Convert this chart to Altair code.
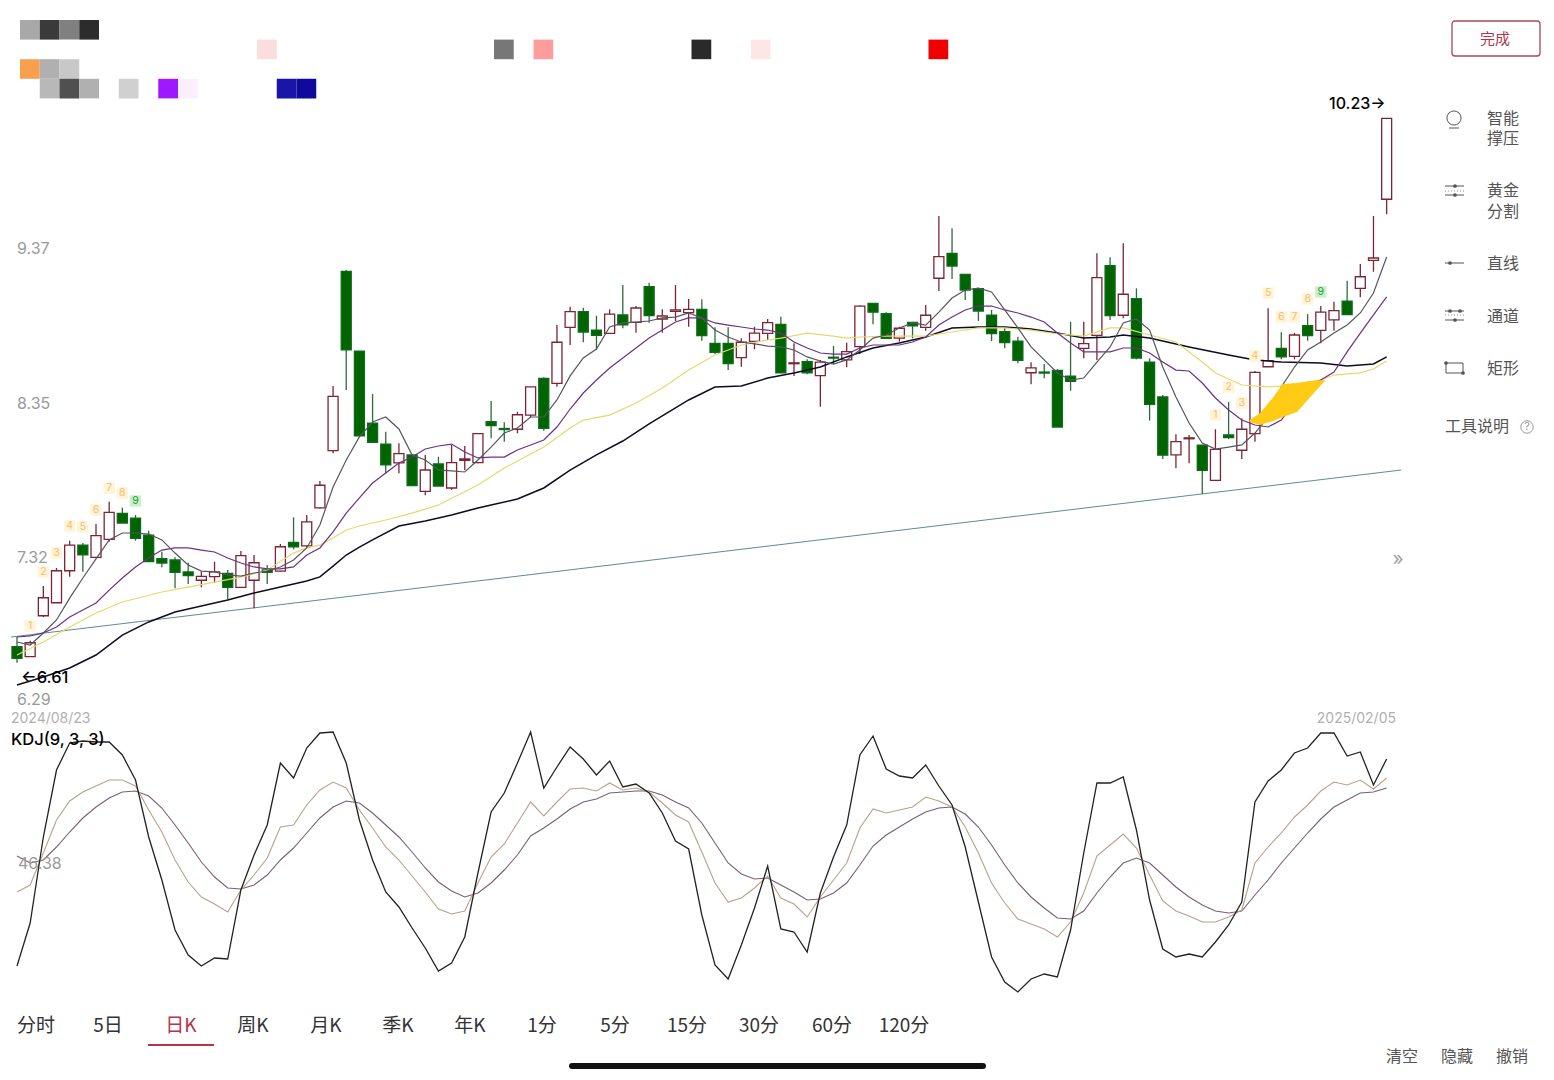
import altair as alt
import pandas as pd

FONT = "Noto Sans CJK SC"
LATIN = "Inter"
W, H = 1538, 1064

# ---------- candles (105 sessions) ----------
body_top = [6.726,6.752,7.050,7.229,7.399,7.399,7.461,7.616,7.609,7.578,7.464,7.309,7.300,7.221,7.192,7.221,7.212,7.329,7.282,7.234,7.388,7.417,7.552,7.795,8.384,9.212,8.684,8.207,8.068,8.004,7.996,7.896,7.936,7.945,7.969,8.137,8.216,8.171,8.262,8.446,8.503,8.742,8.945,8.945,8.823,8.929,8.923,8.969,9.110,8.916,8.956,8.960,8.960,8.735,8.735,8.742,8.803,8.872,8.861,8.606,8.613,8.611,8.643,8.680,8.982,9.000,8.931,8.835,8.874,8.921,9.309,9.331,9.192,9.097,8.921,8.812,8.750,8.572,8.545,8.556,8.517,8.733,9.170,9.249,9.060,9.031,8.611,8.380,8.084,8.109,8.060,8.033,8.128,8.166,8.543,8.620,8.702,8.790,8.852,8.941,8.951,9.015,9.176,9.300,10.225]
body_bot = [6.649,6.660,6.931,7.017,7.229,7.335,7.318,7.437,7.545,7.444,7.289,7.280,7.219,7.196,7.166,7.190,7.119,7.119,7.166,7.219,7.227,7.388,7.393,7.645,8.024,8.691,8.123,8.080,7.931,7.943,7.792,7.755,7.790,7.777,7.960,7.945,8.190,8.164,8.166,8.260,8.172,8.470,8.841,8.810,8.788,8.801,8.858,8.874,8.918,8.896,8.947,8.938,8.786,8.676,8.600,8.640,8.748,8.801,8.540,8.600,8.540,8.521,8.637,8.625,8.713,8.941,8.768,8.770,8.850,8.841,9.166,9.247,9.088,8.949,8.799,8.739,8.623,8.540,8.538,8.181,8.484,8.702,8.788,8.918,8.921,8.638,8.331,7.994,7.996,8.103,7.894,7.828,8.110,8.027,8.137,8.580,8.646,8.649,8.786,8.821,8.890,8.925,9.099,9.285,9.689]
high = [6.792,6.766,7.128,7.247,7.428,7.413,7.539,7.686,7.647,7.598,7.494,7.355,7.318,7.282,7.223,7.289,7.234,7.360,7.333,7.267,7.406,7.583,7.598,7.823,8.452,9.221,8.684,8.399,8.150,8.073,7.996,7.996,7.984,8.062,8.055,8.139,8.353,8.212,8.282,8.446,8.510,8.856,8.978,8.971,8.918,8.960,9.121,8.982,9.137,8.960,9.121,9.029,9.027,8.841,8.841,8.768,8.845,8.896,8.911,8.735,8.629,8.625,8.717,8.739,8.987,9.000,8.941,8.845,8.878,8.989,9.578,9.497,9.192,9.103,8.956,8.845,8.779,8.609,8.598,8.563,8.878,8.878,9.331,9.305,9.397,9.099,8.636,8.393,8.133,8.128,8.064,8.166,8.348,8.238,8.552,8.967,8.808,8.805,8.929,8.982,9.011,9.150,9.260,9.578,10.225]
low = [6.620,6.658,6.923,7.017,7.190,7.223,7.313,7.421,7.545,7.428,7.289,7.252,7.113,7.141,7.119,7.150,7.040,7.119,6.980,7.141,7.223,7.371,7.386,7.640,8.007,8.426,8.121,8.080,7.874,7.874,7.792,7.729,7.790,7.764,7.896,7.941,8.106,8.084,8.139,8.245,8.156,8.448,8.724,8.742,8.691,8.801,8.835,8.805,8.872,8.805,8.883,8.845,8.752,8.664,8.558,8.580,8.695,8.757,8.537,8.519,8.530,8.315,8.598,8.576,8.664,8.861,8.768,8.746,8.768,8.819,9.082,9.161,9.022,8.883,8.750,8.702,8.603,8.464,8.503,8.181,8.421,8.636,8.625,8.890,8.901,8.629,8.223,7.969,7.907,7.941,7.737,7.823,8.101,7.969,8.084,8.580,8.629,8.629,8.752,8.735,8.819,8.925,9.040,9.209,9.590]
is_up = [0,1,1,1,1,0,1,1,0,0,0,0,0,0,1,1,0,1,1,0,1,0,1,1,1,0,0,0,0,1,0,1,0,1,1,1,0,0,1,1,0,1,1,0,0,1,0,1,0,1,1,1,0,0,0,1,1,1,0,1,0,1,0,1,1,0,0,1,0,1,1,0,0,0,0,0,0,1,0,0,0,1,1,0,1,0,0,0,1,1,0,1,0,1,1,1,0,1,0,1,1,0,1,1,1]

# ---------- moving averages ----------
ma5 = [6.757,6.737,6.817,6.903,7.048,7.181,7.307,7.433,7.479,7.479,7.472,7.433,7.346,7.267,7.227,7.221,7.201,7.194,7.214,7.227,7.254,7.300,7.380,7.532,7.784,7.962,8.115,8.214,8.247,8.168,7.996,7.962,7.896,7.890,7.883,7.962,8.048,8.141,8.174,8.247,8.247,8.360,8.519,8.638,8.697,8.843,8.870,8.876,8.883,8.903,8.909,8.936,8.903,8.823,8.777,8.744,8.731,8.717,8.711,8.691,8.645,8.618,8.598,8.625,8.691,8.770,8.790,8.837,8.870,8.856,8.942,9.035,9.088,9.101,9.075,8.956,8.837,8.711,8.625,8.539,8.492,8.505,8.611,8.711,8.870,8.896,8.823,8.578,8.380,8.207,8.075,8.035,8.048,8.062,8.141,8.247,8.446,8.578,8.691,8.744,8.803,8.856,8.936,9.068,9.307]
ma10 = [6.790,6.797,6.817,6.856,6.923,6.969,7.015,7.101,7.181,7.254,7.313,7.366,7.380,7.380,7.366,7.353,7.313,7.280,7.254,7.241,7.241,7.254,7.333,7.380,7.486,7.611,7.711,7.810,7.876,7.943,7.982,8.035,8.055,8.068,8.015,7.976,7.982,7.982,8.029,8.062,8.095,8.181,8.300,8.406,8.492,8.572,8.638,8.704,8.770,8.823,8.876,8.903,8.903,8.870,8.856,8.843,8.830,8.823,8.803,8.744,8.704,8.671,8.664,8.664,8.704,8.724,8.724,8.724,8.744,8.777,8.856,8.909,8.956,8.982,8.982,8.956,8.936,8.909,8.876,8.803,8.737,8.678,8.678,8.678,8.704,8.704,8.671,8.611,8.558,8.552,8.472,8.373,8.294,8.227,8.194,8.181,8.227,8.346,8.439,8.492,8.545,8.678,8.803,8.923,9.042]
ma20_i = [0,2,4,6,8,11,13,15,17,19,21,22,23,24,25,26,28,30,32,35,37,40,42,43,45,47,49,51,53,55,57,58,60,62,63,64,66,69,71,73,75,77,79,81,83,84,86,88,90,91,93,95,96,99,100,102,103,104]
ma20 = [6.671,6.757,6.856,6.949,7.022,7.088,7.121,7.154,7.187,7.234,7.346,7.380,7.399,7.446,7.499,7.525,7.565,7.611,7.664,7.797,7.909,8.048,8.174,8.227,8.260,8.340,8.439,8.558,8.658,8.724,8.757,8.770,8.803,8.783,8.770,8.777,8.783,8.783,8.810,8.837,8.837,8.823,8.797,8.783,8.837,8.837,8.790,8.744,8.611,8.539,8.459,8.446,8.452,8.492,8.525,8.539,8.565,8.618]
ma30_i = [0,2,4,6,8,10,12,14,16,18,20,22,23,24,25,26,27,29,31,33,35,36,38,40,42,44,46,48,51,53,55,57,59,61,63,65,67,69,71,73,75,77,79,81,83,84,86,89,92,94,96,99,101,103,104]
ma30 = [6.472,6.525,6.585,6.671,6.803,6.890,6.956,6.995,7.035,7.082,7.121,7.161,7.188,7.260,7.333,7.386,7.433,7.525,7.558,7.598,7.645,7.664,7.704,7.777,7.896,7.996,8.088,8.201,8.360,8.446,8.452,8.505,8.539,8.578,8.645,8.704,8.737,8.777,8.837,8.843,8.843,8.830,8.803,8.770,8.777,8.790,8.770,8.711,8.658,8.625,8.611,8.605,8.585,8.598,8.645]

trend_i = [-0.45, 105.1]
trend_p = [6.790, 7.896]

# hand-drawn highlighter stroke
mark_i = [93.6,94.4,95.4,96.1,97.2,98.2,99.3]
mark_top = [8.227,8.274,8.380,8.466,8.472,8.486,8.492]
mark_bot = [8.214,8.194,8.221,8.247,8.280,8.380,8.486]

# nine-turn counters
td_i = [1,2,3,4,5,6,7,8,9,91,92,93,94,95,96,97,98,99]
td_n = [1,2,3,4,5,6,7,8,9,1,2,3,4,5,6,7,8,9]
td_p = [6.863,7.221,7.346,7.525,7.519,7.631,7.777,7.744,7.691,8.260,8.446,8.340,8.651,9.068,8.909,8.909,9.029,9.075]

# ---------- KDJ ----------
kdj_j = [-5.1,16.4,59.4,92.9,106.4,107.4,106.9,106.9,100.4,87.9,59.4,37.9,12.9,0.4,-5.1,-1.1,-1.6,32.9,50.4,65.4,96.4,88.9,103.9,111.4,111.9,96.4,67.9,47.9,31.9,24.4,13.9,3.9,-7.6,-3.6,9.4,41.4,71.9,81.4,96.4,111.9,83.9,94.4,104.4,98.4,90.4,97.4,84.4,85.9,81.4,71.4,57.4,53.4,20.4,-4.6,-11.6,5.4,23.9,44.9,13.4,11.9,1.9,31.4,49.4,65.4,100.4,109.9,93.4,89.9,88.9,95.4,84.9,75.4,54.4,26.9,-0.6,-13.1,-18.1,-11.6,-9.1,-10.6,12.9,51.4,86.4,86.4,89.4,62.9,27.9,3.4,-0.6,0.9,-0.6,6.9,15.4,26.9,76.9,87.4,92.9,101.4,103.9,111.4,111.4,99.9,101.9,85.4,98.4]
kdj_k = [31.9,35.4,51.4,67.9,77.4,81.9,84.9,87.9,87.9,84.9,72.9,61.9,47.9,36.9,29.4,25.9,21.9,32.9,40.4,48.9,64.4,65.4,75.4,82.9,86.9,83.9,72.9,63.9,54.4,47.9,39.9,31.9,23.4,20.9,22.4,36.4,49.4,55.9,66.4,76.9,69.9,76.9,83.4,83.9,82.4,86.4,82.9,83.9,81.9,76.4,70.4,66.9,51.9,36.4,26.9,28.9,33.9,39.9,28.9,25.9,19.4,29.4,37.9,46.4,63.9,73.4,71.4,72.9,74.4,79.4,77.4,74.4,64.4,51.4,36.4,26.4,18.4,15.9,13.4,9.4,16.9,31.4,49.9,55.4,60.9,53.9,40.4,27.4,22.4,19.9,16.9,16.9,19.4,22.9,46.4,54.4,61.4,69.4,75.4,82.4,86.9,85.4,87.9,83.4,88.9]
kdj_d = [49.9,46.4,47.9,54.4,61.9,68.9,74.4,78.9,81.9,82.4,79.9,73.9,65.4,56.4,46.9,39.4,33.9,33.4,35.4,40.4,47.9,53.9,61.4,68.9,74.4,77.4,76.4,71.4,65.4,59.4,51.9,43.9,36.9,32.4,29.4,31.4,36.4,42.9,50.4,59.9,63.9,68.4,73.4,76.9,78.4,81.4,81.9,82.4,82.4,80.4,76.9,73.9,66.4,56.4,46.4,40.9,38.4,38.9,35.4,31.9,27.9,28.4,31.4,36.4,45.4,54.9,60.4,64.4,68.4,71.9,73.9,74.4,70.9,64.4,55.4,45.4,36.4,29.4,23.9,18.9,18.4,22.4,31.4,39.4,46.4,48.9,46.4,40.4,34.4,29.4,25.4,22.4,21.4,22.4,30.4,37.9,46.4,53.9,61.4,68.4,74.4,77.9,81.4,81.9,83.9]

# ---------- blurred header cells ----------
cell_col = [0,1,2,3, 12,24,26,34,37,46, 0,1,2, 1,2,3,5,7,8,13,14]
cell_row = [0,0,0,0, 1,1,1,1,1,1, 2,2,2, 3,3,3,3,3,3,3,3]
cell_color = ["#a8a8a8","#3a3a3a","#808080","#2c2c2c","#fbdde0","#777777","#ff9d9d","#2a2a2a","#fde6e6","#f00000","#f9a04f","#b0b0b0","#c8c8c8","#b8b8b8","#505050","#b0b0b0","#d0d0d0","#a018ff","#fbeeff","#1a14a8","#100a9c"]

# ---------- interface text ----------
tab_labels = ["分时","5日","日K","周K","月K","季K","年K","1分","5分","15分","30分","60分","120分"]
tab_x = [36,108,181,253,326,398,470,542,615,687,759,832,904]
tool_labels = ["智能","撑压","黄金","分割","直线","通道","矩形"]
tool_y = [119,139,191,212,264,317,369]
action_labels = ["清空","隐藏","撤销"]
action_x = [1402,1457,1512]
axis_labels = ["9.37","8.35","7.32","6.29","46.38"]
axis_x = [17,17,17,17,18]
axis_y = [249,404,558,700,864]

x_i = alt.Scale(domain=[-0.683, 116.1], nice=False, zero=False, padding=0)
y_p = alt.Scale(domain=[3.9094, 10.9557], nice=False, zero=False)
y_k = alt.Scale(domain=[-58.1, 473.9], nice=False, zero=False)
X = alt.X("i:Q", scale=x_i, axis=None)

candles = pd.DataFrame({"i": range(105), "top": body_top, "bot": body_bot, "high": high, "low": low, "up": is_up})
up_df, dn_df = candles[candles.up == 1], candles[candles.up == 0]


def wick(df, col):
    return alt.Chart(df).mark_rule(color=col, strokeWidth=1.3).encode(
        x=X, y=alt.Y("high:Q", scale=y_p, axis=None), y2="low:Q")


def body(df, fill, stroke):
    return alt.Chart(df).mark_bar(size=10, fill=fill, stroke=stroke, strokeWidth=1.3).encode(
        x=X, y=alt.Y("top:Q", scale=y_p, axis=None), y2="bot:Q")


def pline(idx, vals, col, sw):
    d = pd.DataFrame({"i": idx, "v": vals})
    return alt.Chart(d).mark_line(color=col, strokeWidth=sw).encode(
        x=X, y=alt.Y("v:Q", scale=y_p, axis=None))


def kline(vals, col, sw):
    d = pd.DataFrame({"i": range(105), "v": vals})
    return alt.Chart(d).mark_line(color=col, strokeWidth=sw).encode(
        x=X, y=alt.Y("v:Q", scale=y_k, axis=None))


full = list(range(105))
td = pd.DataFrame({"i": td_i, "p": td_p, "n": td_n})
td_a, td_b = td[td.n < 9], td[td.n == 9]


def td_layer(df, bg, fg):
    base = alt.Chart(df).encode(x=X, y=alt.Y("p:Q", scale=y_p, axis=None))
    return base.mark_square(size=130, color=bg, opacity=1) + base.mark_text(
        font=LATIN, fontSize=10.5, color=fg).encode(text="n:N")


highlight = alt.Chart(pd.DataFrame({"i": mark_i, "a": mark_top, "b": mark_bot})).mark_area(
    color="#ffcb14").encode(x=X, y=alt.Y("a:Q", scale=y_p, axis=None), y2="b:Q")

price = alt.layer(
    pline(trend_i, trend_p, "#5f8c8f", 1),
    wick(dn_df, "#2f6b3a"), wick(up_df, "#7d2436"),
    body(dn_df, "#006400", "#0d6b1d"), body(up_df, "#ffffff", "#7d2436"),
    pline(ma30_i, ma30, "#0c0c24", 1.5),
    pline(ma20_i, ma20, "#e6d86e", 1.2),
    pline(full, ma10, "#6d3085", 1.2),
    pline(full, ma5, "#55555f", 1.2),
    highlight,
    td_layer(td_a, "#fff3d8", "#f3c16d"),
    td_layer(td_b, "#c9f0c9", "#1c9c32"),
)

kdj = alt.layer(kline(kdj_d, "#7a5f72", 1.1), kline(kdj_k, "#b9a18c", 1.1), kline(kdj_j, "#222222", 1.3))

cells = pd.DataFrame({"c": cell_col, "r": cell_row, "color": cell_color})
cells["c2"] = cells.c + 1
cells["r2"] = cells.r + 1
header = alt.Chart(cells).mark_rect().encode(
    x=alt.X("c:Q", scale=alt.Scale(domain=[-0.6076, 77.266], nice=False, zero=False), axis=None),
    x2="c2:Q",
    y=alt.Y("r:Q", scale=alt.Scale(domain=[53.673, -0.6122], nice=False, zero=False), axis=None),
    y2="r2:Q",
    color=alt.Color("color:N", scale=None, legend=None),
)


def txt(rows, align="left", weight=400, font=FONT):
    d = pd.DataFrame(rows, columns=["t", "x", "y", "s", "c"])
    d["x"] -= 8
    d["y"] -= 8
    return alt.Chart(d).mark_text(font=font, align=align, baseline="middle", fontWeight=weight).encode(
        x=alt.X("x:Q", scale=None, axis=None), y=alt.Y("y:Q", scale=None, axis=None), text="t:N",
        size=alt.Size("s:Q", scale=None, legend=None), color=alt.Color("c:N", scale=None, legend=None))


def rules(rows, dash=None, sw=1.0, color="#555555", cap="butt"):
    d = pd.DataFrame(rows, columns=["x", "x2", "y", "y2"]) - 8
    kw = {"strokeDash": dash} if dash else {}
    return alt.Chart(d).mark_rule(color=color, strokeWidth=sw, strokeCap=cap, **kw).encode(
        x=alt.X("x:Q", scale=None, axis=None), x2="x2:Q", y=alt.Y("y:Q", scale=None, axis=None), y2="y2:Q")


def dots(rows, size=10, filled=True, color="#555555"):
    d = pd.DataFrame(rows, columns=["x", "y"]) - 8
    return alt.Chart(d).mark_point(shape="circle", size=size, filled=filled, color=color, opacity=1, strokeWidth=1).encode(
        x=alt.X("x:Q", scale=None, axis=None), y=alt.Y("y:Q", scale=None, axis=None))


RED = "#b5344a"
button = alt.Chart(pd.DataFrame({"x": [1444], "x2": [1532], "y": [13], "y2": [48]})).mark_rect(
    fill="#ffffff", stroke="#a8485a", strokeWidth=1.3, cornerRadius=3).encode(
    x=alt.X("x:Q", scale=None, axis=None), x2="x2:Q", y=alt.Y("y:Q", scale=None, axis=None), y2="y2:Q")

tab_rows = [[t, x, 1026, 19, RED if t == "日K" else "#333333"] for t, x in zip(tab_labels, tab_x)]
tool_rows = [[t, 1487, y, 16, "#555555"] for t, y in zip(tool_labels, tool_y)] + [["工具说明", 1445, 427, 16, "#555555"]]
action_rows = [[t, x, 1057, 16, "#555555"] for t, x in zip(action_labels, action_x)]
axis_rows = [[t, x, y, 16, "#9a9a9a"] for t, x, y in zip(axis_labels, axis_x, axis_y)]

ui = alt.layer(
    txt(axis_rows, font=LATIN),
    txt([["2024/08/23", 11, 719, 14, "#b0b0b0"]], font=LATIN),
    txt([["2025/02/05", 1396, 719, 14, "#b0b0b0"]], align="right", font=LATIN),
    txt([["»", 1398, 559, 19, "#a0a0a0"]], align="center", font=LATIN),
    txt([["KDJ(9, 3, 3)", 11, 740, 16.5, "#000000"], ["10.23→", 1329, 104, 16, "#000000"], ["←6.61", 21, 678, 16.5, "#000000"]], weight=500, font=LATIN),
    txt(tab_rows, align="center"),
    rules([[148, 214, 1045, 1045]], sw=2, color=RED),
    rules([[572, 983, 1066, 1066]], sw=6, color="#111111", cap="round"),
    button,
    txt([["完成", 1495, 39, 15, RED]], align="center"),
    txt(tool_rows),
    txt(action_rows, align="center"),
    txt([["?", 1527, 427, 11, "#999999"]], align="center", font=LATIN),
    dots([[1454, 118]], size=200, filled=False),
    dots([[1527, 427]], size=154, filled=False, color="#999999"),
    rules([[1449, 1459, 128, 128], [1445, 1464, 186, 186], [1445, 1464, 195, 195], [1445, 1464, 263, 263],
           [1445, 1464, 311, 311], [1445, 1464, 320, 320], [1446, 1463, 363, 363], [1446, 1463, 373, 373],
           [1446, 1446, 363, 373], [1463, 1463, 363, 373]]),
    rules([[1445, 1464, 191, 191], [1445, 1464, 315, 315]], dash=[1, 2], color="#888888"),
    dots([[1455, 186], [1455, 195], [1450, 263], [1450, 311], [1460, 311], [1455, 320], [1446, 363], [1463, 373]], size=14),
)

chart = alt.layer(kdj, price, header, ui).resolve_scale(x="independent", y="independent").properties(
    width=W, height=H, padding=0, background="#ffffff"
).configure_view(strokeWidth=0)

chart.save("out.html", embed_options={"renderer": "svg", "actions": False})
